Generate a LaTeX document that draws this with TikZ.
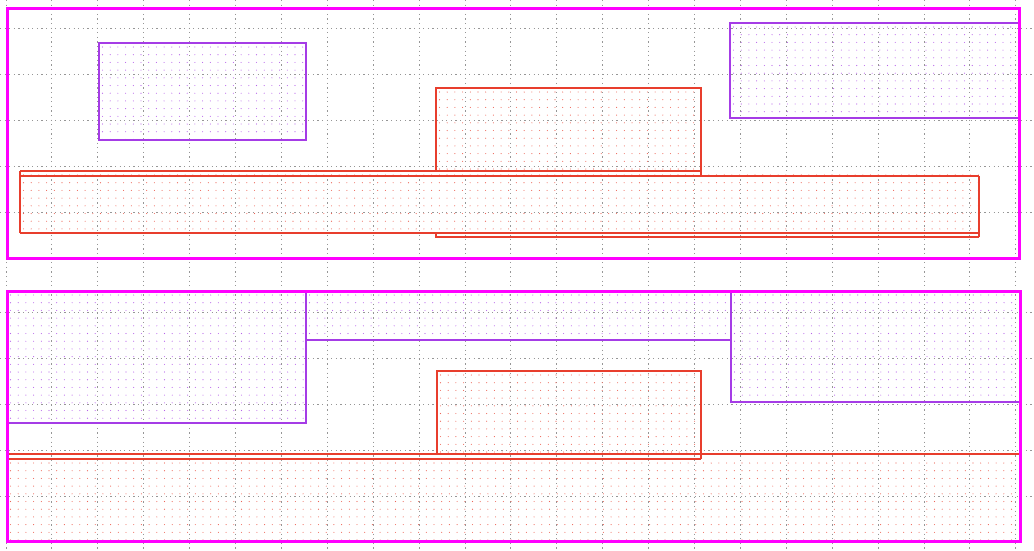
\documentclass[tikz,border=0pt]{standalone}
\definecolor{mag}{RGB}{255,0,255}
\definecolor{pur}{RGB}{165,60,230}
\definecolor{rd}{RGB}{232,62,45}
\definecolor{gr}{RGB}{150,150,150}
\tikzset{
  gridline/.style={gr, line width=1pt, dash pattern=on 1.2pt off 3.4pt},
  panel/.style={mag, line width=3pt},
  pline/.style={pur, line width=1.1pt},
  rline/.style={rd, line width=1.1pt},
}
\newcommand\dotrect[5]{%
  \begin{scope}
  \clip (#2,#3) rectangle (#4,#5);
  \pgfmathsetmacro\xa{#2+3.5}\pgfmathsetmacro\xb{#2+3.5+7.7}%
  \pgfmathsetmacro\ya{#3+4}\pgfmathsetmacro\yb{#3+4+7.7}%
  \foreach \xx in {\xa,\xb,...,#4} {
    \foreach \yy in {\ya,\yb,...,#5} {
      \fill[#1] (\xx,\yy) circle (0.55);
    }
  }
  \end{scope}}
\begin{document}
\begin{tikzpicture}[x=1pt,y=-1pt]
\useasboundingbox (0,0) rectangle (1034,550);
% grid
\foreach \k in {0,...,22} {
  \draw[gridline] ({6+45.9*\k},0) -- ({6+45.9*\k},550);
}
\foreach \yy in {28.5,74.5,120.5,166.5,212.5,312,358,404,450,496} {
  \draw[gridline] (0,\yy) -- (1034,\yy);
}
% ---------- top panel ----------
\dotrect{pur!80}{99}{43}{306}{140}
\dotrect{pur!80}{730}{23}{1019}{118}
\dotrect{rd!80}{436}{88}{701}{171}
\dotrect{rd!80}{20}{171}{979}{233}
\draw[pline] (99,43) rectangle (306,140);
\draw[pline] (730,23) rectangle (1019,118);
\draw[rline] (436,171) -- (436,88) -- (701,88) -- (701,176);
\draw[rline] (20,171) -- (701,171);
\draw[rline] (20,171) -- (20,233);
\draw[rline] (20,176) -- (979,176);
\draw[rline] (20,233) -- (979,233);
\draw[rline] (979,176) -- (979,237);
\draw[rline] (436,233) -- (436,237) -- (979,237);
% ---------- bottom panel ----------
\dotrect{pur!80}{7}{291}{306}{423}
\dotrect{pur!80}{306}{291}{731}{340}
\dotrect{pur!80}{731}{291}{1019}{402}
\dotrect{rd!80}{437}{371}{701}{454}
\dotrect{rd!80}{7}{459}{1019}{541}
\draw[pline] (7,423) -- (306,423) -- (306,291);
\draw[pline] (306,340) -- (731,340);
\draw[pline] (731,291) -- (731,402) -- (1019,402);
\draw[rline] (437,454) -- (437,371) -- (701,371) -- (701,459);
\draw[rline] (7,454) -- (1019,454);
\draw[rline] (7,459) -- (701,459);
% panels
\draw[panel] (7,8.3) rectangle (1019.5,258.3);
\draw[panel] (7,291) rectangle (1020,541);
\end{tikzpicture}
\end{document}
